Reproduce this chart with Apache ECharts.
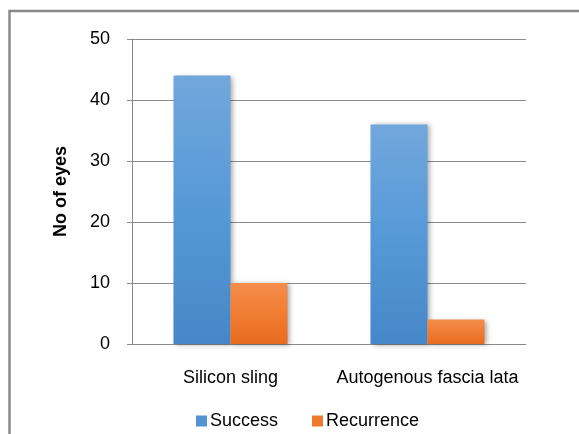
<!DOCTYPE html>
<html>
<head>
<meta charset="utf-8">
<script src="https://cdn.jsdelivr.net/npm/echarts@6/dist/echarts.min.js"></script>
<style>
html,body{margin:0;padding:0;background:#fff;}
#chart{width:579px;height:434px;}
</style>
</head>
<body>
<div id="chart"></div>
<script>
var categories = ['Silicon sling', 'Autogenous fascia lata'];
var successValues = [44, 36];
var recurrenceValues = [10, 4];
var yTicks = [0, 10, 20, 30, 40, 50];

var chart = echarts.init(document.getElementById('chart'), null, {renderer: 'canvas'});
var font = '"Liberation Sans", Arial, sans-serif';

function grad(top, mid, bottom) {
  return new echarts.graphic.LinearGradient(0, 0, 0, 1, [
    {offset: 0, color: top},
    {offset: 0.5, color: mid},
    {offset: 1, color: bottom}
  ]);
}

var option = {
  animation: false,
  backgroundColor: '#fff',
  textStyle: {fontFamily: font},
  graphic: [{
    type: 'rect',
    shape: {x: 9.5, y: 11, width: 620, height: 500},
    style: {fill: 'none', stroke: '#8a8a8a', lineWidth: 2.5},
    silent: true
  }],
  grid: {left: 132, right: 53, top: 39, bottom: 90, containLabel: false},
  legend: {
    left: 196,
    top: 412,
    padding: 0,
    itemWidth: 11,
    itemHeight: 11,
    itemGap: 34,
    icon: 'rect',
    textStyle: {fontFamily: font, fontSize: 18, color: '#000', padding: [0, 0, 0, -2]}
  },
  xAxis: {
    type: 'category',
    data: categories,
    axisLine: {lineStyle: {color: '#8a8a8a', width: 1}},
    axisTick: {show: false},
    axisLabel: {interval: 0, fontFamily: font, fontSize: 18, color: '#000', margin: 25}
  },
  yAxis: {
    type: 'value',
    min: yTicks[0],
    max: yTicks[yTicks.length - 1],
    interval: 10,
    name: 'No of eyes',
    nameLocation: 'middle',
    nameGap: 62,
    nameRotate: 90,
    nameTextStyle: {fontFamily: font, fontSize: 18, fontWeight: 'bold', color: '#000'},
    axisLine: {show: true, lineStyle: {color: '#8a8a8a', width: 1}},
    axisTick: {show: true, length: 5, lineStyle: {color: '#8a8a8a'}},
    axisLabel: {fontFamily: font, fontSize: 18, color: '#000', margin: 22, padding: [3, 0, 0, 0]},
    splitLine: {show: true, lineStyle: {color: '#8a8a8a', width: 1}}
  },
  series: [{
    name: 'Success',
    type: 'bar',
    data: successValues,
    barWidth: 57,
    barGap: '0%',
    itemStyle: {
      color: grad('#72a7dc', '#5699d8', '#4587c8'),
      shadowColor: 'rgba(0,0,0,0.35)',
      shadowBlur: 5,
      shadowOffsetX: 2,
      shadowOffsetY: 1
    }
  }, {
    name: 'Recurrence',
    type: 'bar',
    data: recurrenceValues,
    barWidth: 57,
    barGap: '0%',
    itemStyle: {
      color: grad('#f38d4c', '#f17d33', '#e86b1e'),
      shadowColor: 'rgba(0,0,0,0.35)',
      shadowBlur: 5,
      shadowOffsetX: 2,
      shadowOffsetY: 1
    }
  }]
};
option.legend.data = [
  {name: 'Success', itemStyle: {color: '#5393d3', shadowBlur: 0}},
  {name: 'Recurrence', itemStyle: {color: '#ee7a30', shadowBlur: 0}}
];
chart.setOption(option);
</script>
</body>
</html>
